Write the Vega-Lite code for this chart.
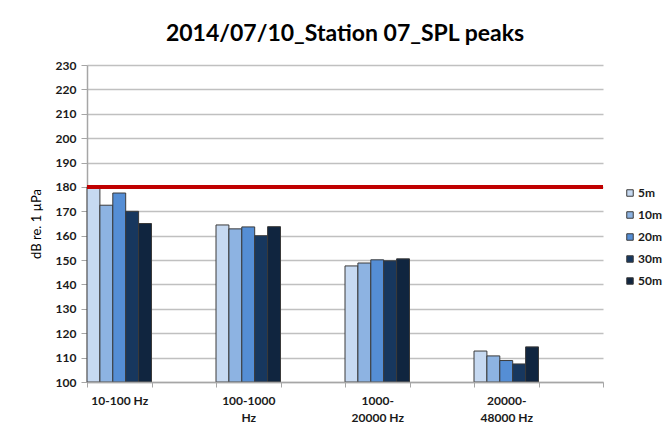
{
  "$schema": "https://vega.github.io/schema/vega-lite/v6.json",
  "autosize": {"type": "none"},
  "width": 516,
  "height": 317,
  "padding": {"left": 87, "top": 65, "right": 61, "bottom": 45},
  "background": "white",
  "config": {
    "font": "Lato",
    "view": {"stroke": null},
    "axis": {"labelFont": "Lato", "titleFont": "Lato"},
    "axisY": {
      "titleFontSize": 13,
      "titleFontWeight": "normal",
      "titleColor": "#000000",
      "titlePadding": 12,
      "labelOverlap": false,
      "labelFontSize": 12,
      "labelFontWeight": "bold",
      "labelColor": "#1a1a1a",
      "labelPadding": 5,
      "tickColor": "#a6a6a6",
      "tickSize": 6,
      "domainColor": "#a6a6a6",
      "domainWidth": 1.5,
      "gridColor": "#c0c0c0",
      "gridWidth": 1.5
    }
  },
  "title": {
    "text": "2014/07/10_Station 07_SPL peaks",
    "fontSize": 23,
    "fontWeight": "bold",
    "font": "Lato",
    "color": "#000000",
    "anchor": "middle",
    "offset": 13
  },
  "layer": [
    {
      "data": {
        "values": [
          {"band": "10-100 Hz", "depth": "5m", "spl": 180},
          {"band": "10-100 Hz", "depth": "10m", "spl": 172.5},
          {"band": "10-100 Hz", "depth": "20m", "spl": 177.5},
          {"band": "10-100 Hz", "depth": "30m", "spl": 170},
          {"band": "10-100 Hz", "depth": "50m", "spl": 165},
          {"band": "100-1000 Hz", "depth": "5m", "spl": 164.4},
          {"band": "100-1000 Hz", "depth": "10m", "spl": 162.8},
          {"band": "100-1000 Hz", "depth": "20m", "spl": 163.6},
          {"band": "100-1000 Hz", "depth": "30m", "spl": 160},
          {"band": "100-1000 Hz", "depth": "50m", "spl": 163.7},
          {"band": "1000-20000 Hz", "depth": "5m", "spl": 147.6},
          {"band": "1000-20000 Hz", "depth": "10m", "spl": 148.8},
          {"band": "1000-20000 Hz", "depth": "20m", "spl": 150.1},
          {"band": "1000-20000 Hz", "depth": "30m", "spl": 149.7},
          {"band": "1000-20000 Hz", "depth": "50m", "spl": 150.5},
          {"band": "20000-48000 Hz", "depth": "5m", "spl": 112.7},
          {"band": "20000-48000 Hz", "depth": "10m", "spl": 110.7},
          {"band": "20000-48000 Hz", "depth": "20m", "spl": 108.8},
          {"band": "20000-48000 Hz", "depth": "30m", "spl": 107.4},
          {"band": "20000-48000 Hz", "depth": "50m", "spl": 114.4}
        ]
      },
      "mark": {"type": "bar", "stroke": "#3a3a3a", "strokeWidth": 1},
      "encoding": {
        "x": {
          "field": "band",
          "type": "nominal",
          "scale": {
            "domain": ["10-100 Hz", "g1", "100-1000 Hz", "g2", "1000-20000 Hz", "g3", "20000-48000 Hz", "g4"],
            "paddingInner": 0,
            "paddingOuter": 0
          },
          "axis": {
            "title": null,
            "labelAngle": 0,
            "labelFontSize": 12,
            "labelFontWeight": "bold",
            "labelColor": "#1a1a1a",
            "labelPadding": 8,
            "labelLineHeight": 17,
            "labelExpr": "datum.value == '100-1000 Hz' ? ['100-1000', 'Hz'] : datum.value == '1000-20000 Hz' ? ['1000-', '20000 Hz'] : datum.value == '20000-48000 Hz' ? ['20000-', '48000 Hz'] : datum.value == '10-100 Hz' ? '10-100 Hz' : ''",
            "tickBand": "extent",
            "tickColor": "#a6a6a6",
            "tickSize": 5,
            "domainColor": "#a6a6a6",
            "domainWidth": 1.5,
            "grid": false,
            "zindex": 1
          }
        },
        "xOffset": {
          "field": "depth",
          "type": "nominal",
          "scale": {"domain": ["5m", "10m", "20m", "30m", "50m"], "paddingInner": 0, "paddingOuter": 0}
        },
        "y": {
          "field": "spl",
          "type": "quantitative",
          "scale": {"domain": [100, 230], "zero": false, "nice": false},
          "axis": {
            "title": "dB re. 1 µPa",
            "values": [100, 110, 120, 130, 140, 150, 160, 170, 180, 190, 200, 210, 220, 230]
          }
        },
        "y2": {"datum": 100},
        "color": {
          "field": "depth",
          "type": "nominal",
          "scale": {
            "domain": ["5m", "10m", "20m", "30m", "50m"],
            "range": ["#c6d9f1", "#8db3e2", "#558ed5", "#17375e", "#10253f"]
          },
          "legend": {
            "title": null,
            "orient": "none",
            "legendX": 537,
            "legendY": 122,
            "symbolType": "square",
            "symbolSize": 42,
            "symbolStrokeColor": "#3a3a3a",
            "symbolStrokeWidth": 1,
            "labelFontSize": 12,
            "labelFontWeight": "bold",
            "labelColor": "#1a1a1a",
            "labelOffset": 2,
            "rowPadding": 10
          }
        }
      }
    },
    {
      "data": {"values": [{"limit": 180}]},
      "mark": {"type": "rule", "color": "#c00000", "strokeWidth": 4},
      "encoding": {
        "y": {
          "field": "limit",
          "type": "quantitative",
          "axis": {
            "title": "dB re. 1 µPa",
            "values": [100, 110, 120, 130, 140, 150, 160, 170, 180, 190, 200, 210, 220, 230]
          }
        }
      }
    }
  ]
}
